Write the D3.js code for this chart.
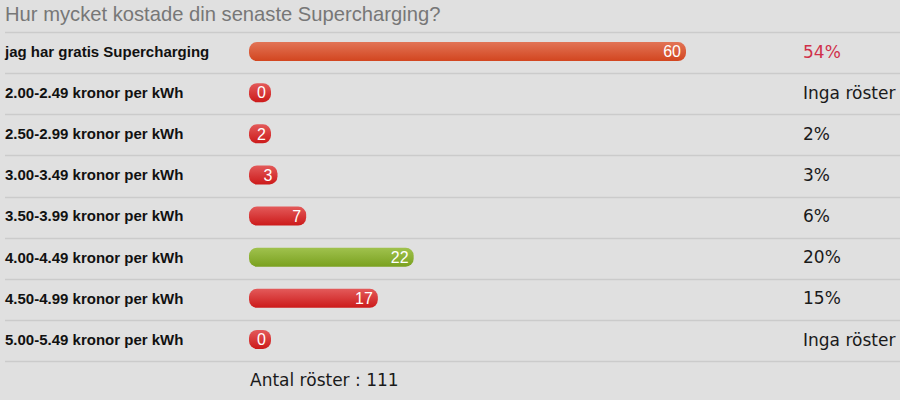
<!DOCTYPE html>
<html>
<head>
<meta charset="utf-8">
<script src="https://cdn.jsdelivr.net/npm/d3@7"></script>
<style>
  body { margin: 0; background: #e0e0e0; }
</style>
</head>
<body>
<div id="chart"></div>
<script>
var title = "Hur mycket kostade din senaste Supercharging?";
var answers = [
  "jag har gratis Supercharging",
  "2.00-2.49 kronor per kWh",
  "2.50-2.99 kronor per kWh",
  "3.00-3.49 kronor per kWh",
  "3.50-3.99 kronor per kWh",
  "4.00-4.49 kronor per kWh",
  "4.50-4.99 kronor per kWh",
  "5.00-5.49 kronor per kWh"
];
var votes = [60, 0, 2, 3, 7, 22, 17, 0];
var barColors = ["orange", "red", "red", "red", "red", "green", "red", "red"];
var totalLabel = "Antal röster : ";
var noVotes = "Inga röster";

var svgWidth = 900;
var svgHeight = 400;
var total = d3.sum(votes);

var svg = d3.select("#chart")
  .append("svg")
  .attr("width", svgWidth)
  .attr("height", svgHeight)
  .style("background-color", "#e0e0e0")
  .style("display", "block");

// gradients for the pill bars
var defs = svg.append("defs");
var grads = {
  orange: ["#e27456", "#d2451f"],
  red: ["#e35a5a", "#cc1a1a"],
  green: ["#a0c24e", "#7aa11f"]
};
Object.keys(grads).forEach(function(k) {
  var g = defs.append("linearGradient")
    .attr("id", "grad-" + k)
    .attr("x1", 0).attr("y1", 0).attr("x2", 0).attr("y2", 1);
  g.append("stop").attr("offset", "0%").attr("stop-color", grads[k][0]);
  g.append("stop").attr("offset", "100%").attr("stop-color", grads[k][1]);
});

svg.append("text")
  .attr("x", 5)
  .attr("y", 21)
  .attr("fill", "#777")
  .style("font-family", "Liberation Sans, Arial, sans-serif")
  .style("font-size", "20.2px")
  .text(title);

// rows
var y = d3.scaleBand()
  .domain(answers)
  .range([32, 361])
  .paddingInner(0);

var x = d3.scaleLinear()
  .domain([0, d3.max(votes)])
  .range([7, 437]);

var barX = 249;
var barH = 19;
var minW = 22;

// separators
svg.selectAll("line.sep")
  .data(d3.range(answers.length + 1))
  .enter()
  .append("line")
  .attr("class", "sep")
  .attr("x1", 5)
  .attr("x2", svgWidth)
  .attr("y1", function(i) { return Math.round(32 + i * y.bandwidth()) + 0.5; })
  .attr("y2", function(i) { return Math.round(32 + i * y.bandwidth()) + 0.5; })
  .attr("stroke", "#cbcbcb")
  .attr("stroke-width", 1.5);

var rows = svg.selectAll("g.row")
  .data(answers)
  .enter()
  .append("g")
  .attr("class", "row")
  .attr("transform", function(d) { return "translate(0," + (y(d) + y.bandwidth() / 2 - 1) + ")"; });

rows.append("text")
  .attr("x", 5)
  .attr("dy", "0.36em")
  .attr("fill", "#111")
  .style("font-family", "Liberation Sans, Arial, sans-serif")
  .style("font-weight", "bold")
  .style("font-size", "15px")
  .text(function(d) { return d; });

function barW(i) { return Math.max(minW, x(votes[i])); }

rows.append("rect")
  .attr("x", barX)
  .attr("y", -barH / 2)
  .attr("height", barH)
  .attr("width", function(d, i) { return barW(i); })
  .attr("rx", 8)
  .attr("fill", function(d, i) { return "url(#grad-" + barColors[i] + ")"; });

rows.append("text")
  .attr("x", function(d, i) { return barX + barW(i) - 5; })
  .attr("dy", "0.36em")
  .attr("text-anchor", "end")
  .attr("fill", "#fff")
  .style("font-family", "Liberation Sans, Arial, sans-serif")
  .style("font-size", "16px")
  .text(function(d, i) { return votes[i]; });

rows.append("text")
  .attr("x", 803)
  .attr("dy", "0.36em")
  .attr("fill", function(d, i) { return i === 0 ? "#d0304a" : "#1a1a1a"; })
  .style("font-family", "DejaVu Sans, Verdana, sans-serif")
  .style("font-size", "17px")
  .text(function(d, i) {
    return votes[i] === 0 ? noVotes : Math.round(votes[i] / total * 100) + "%";
  });

svg.append("text")
  .attr("x", 250)
  .attr("y", 386)
  .attr("fill", "#1a1a1a")
  .style("font-family", "DejaVu Sans, Verdana, sans-serif")
  .style("font-size", "17px")
  .text(totalLabel + total);
</script>
</body>
</html>
